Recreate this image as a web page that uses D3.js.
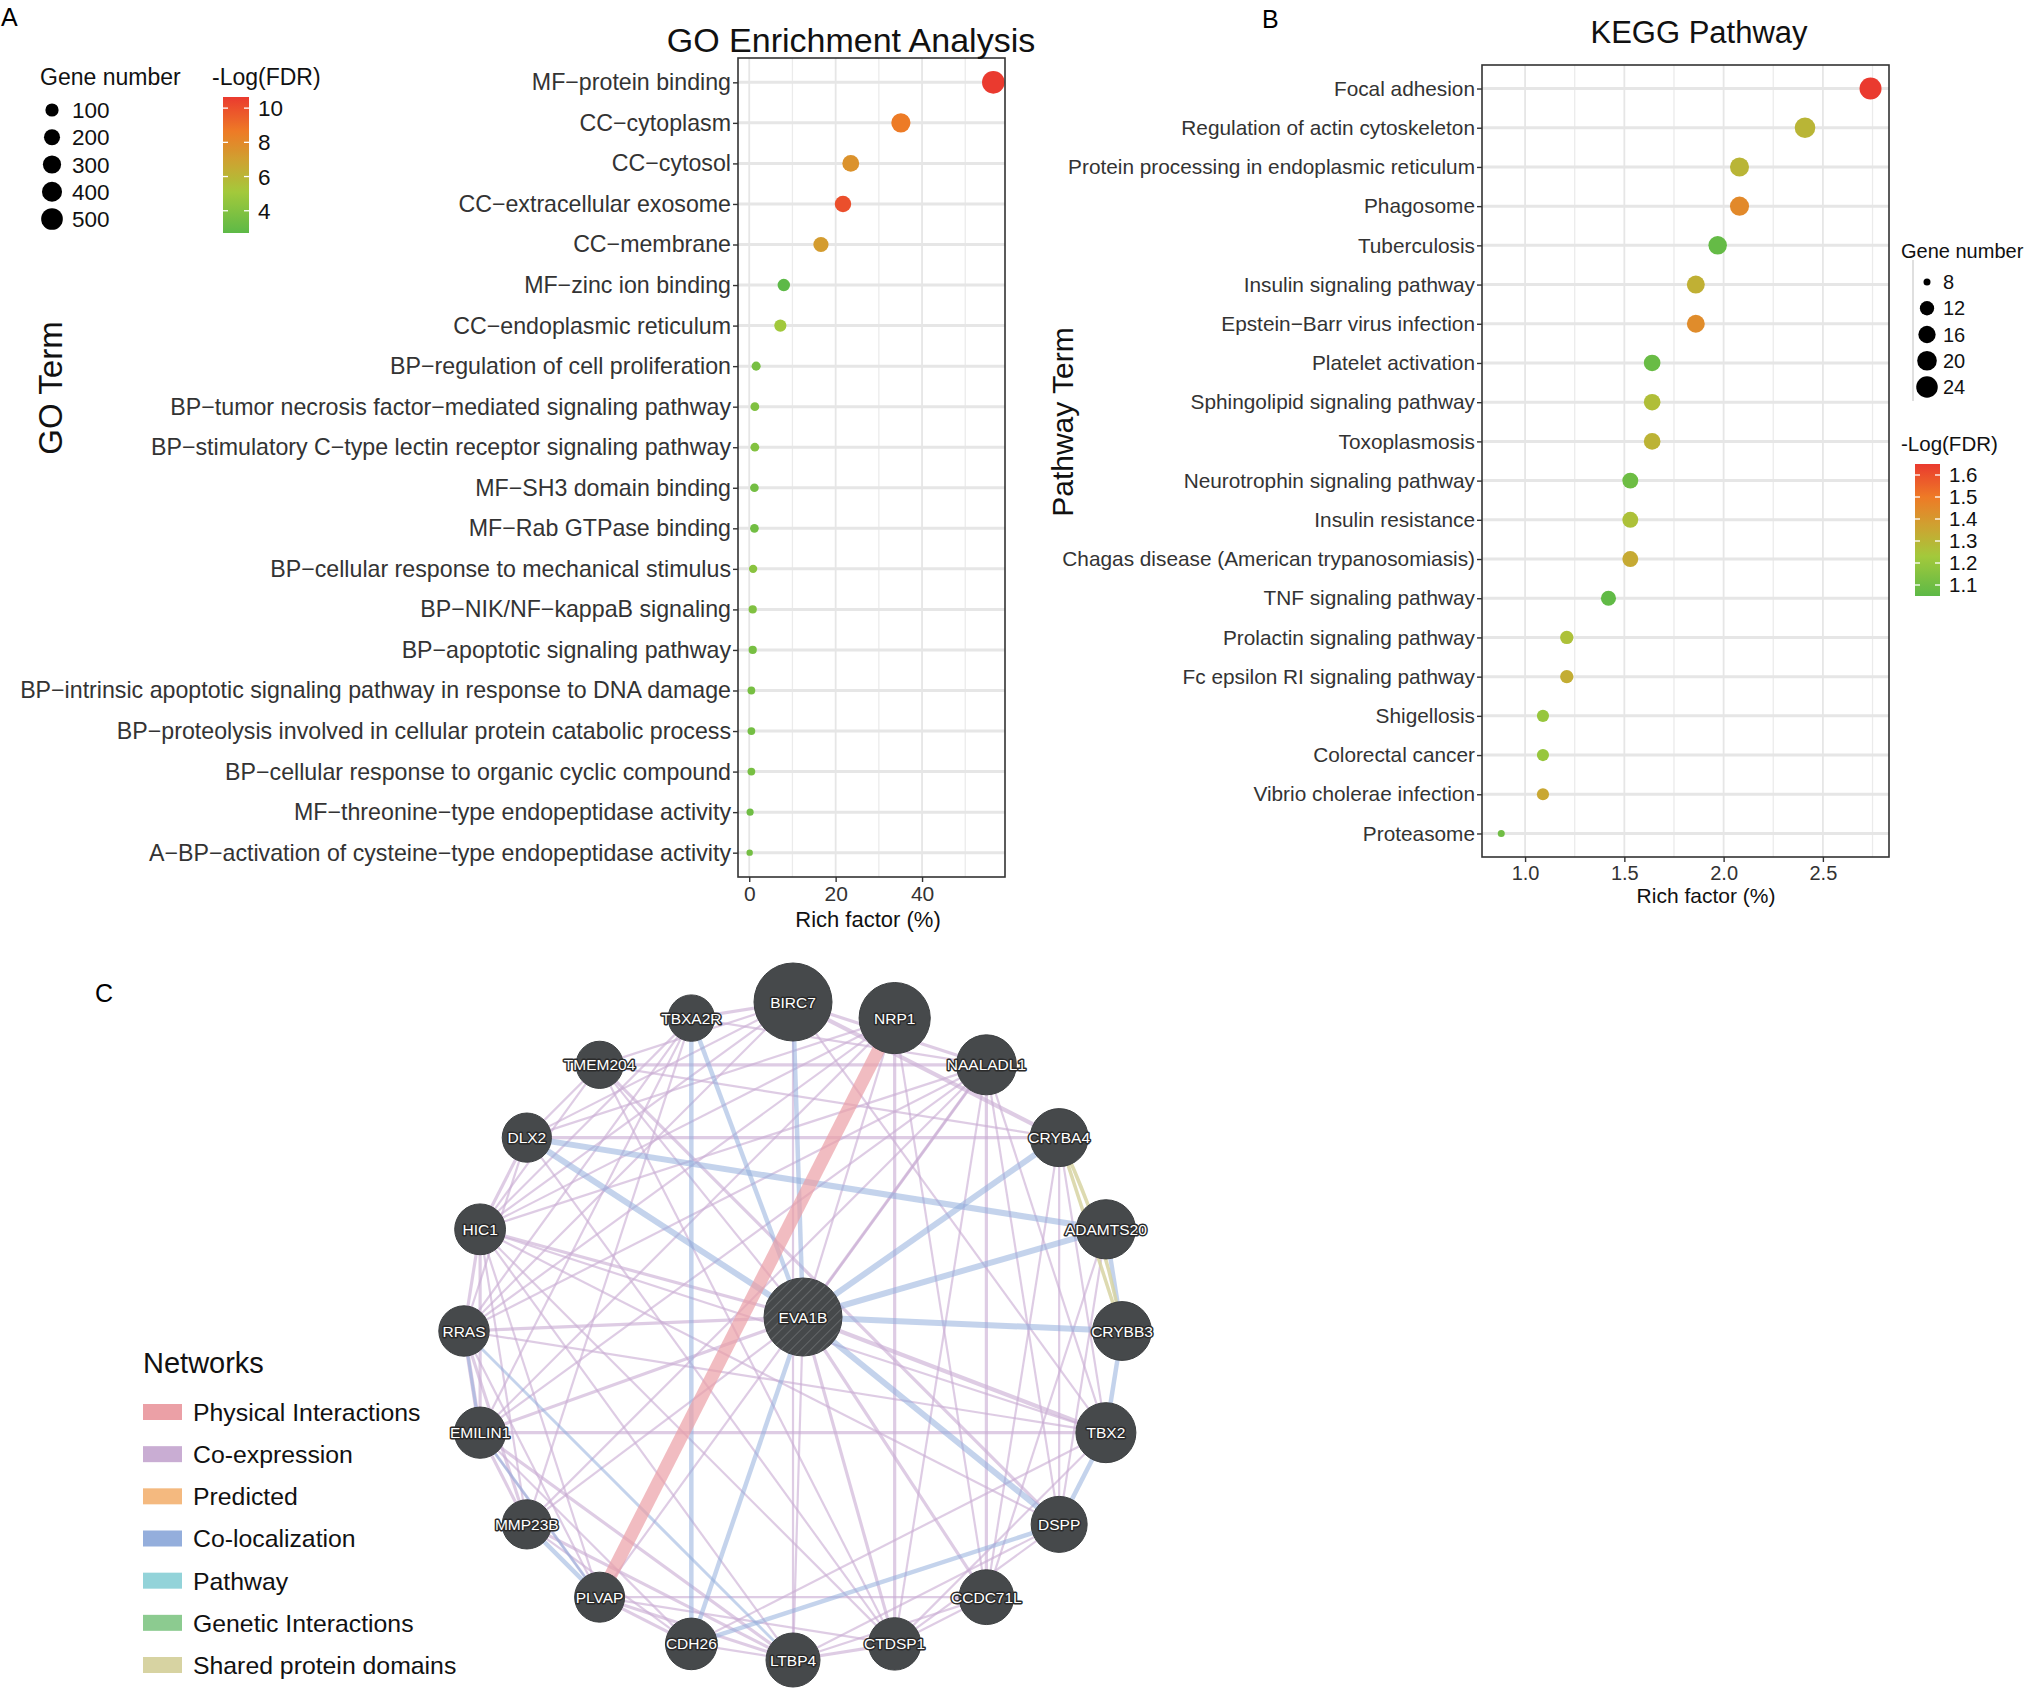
<!DOCTYPE html>
<html><head><meta charset="utf-8">
<script src="https://cdn.jsdelivr.net/npm/d3@7"></script>
<style>
body{margin:0;background:#fff}
text{font-family:"Liberation Sans",Arial,Helvetica,sans-serif}
</style>
</head><body>
<svg id="c" width="2029" height="1692"></svg>
<script>
// ---------------- DATA: GO enrichment (panel A) ----------------
const goTerms = [
 "MF\u2212protein binding","CC\u2212cytoplasm","CC\u2212cytosol","CC\u2212extracellular exosome","CC\u2212membrane",
 "MF\u2212zinc ion binding","CC\u2212endoplasmic reticulum","BP\u2212regulation of cell proliferation",
 "BP\u2212tumor necrosis factor\u2212mediated signaling pathway","BP\u2212stimulatory C\u2212type lectin receptor signaling pathway",
 "MF\u2212SH3 domain binding","MF\u2212Rab GTPase binding","BP\u2212cellular response to mechanical stimulus",
 "BP\u2212NIK/NF\u2212kappaB signaling","BP\u2212apoptotic signaling pathway",
 "BP\u2212intrinsic apoptotic signaling pathway in response to DNA damage",
 "BP\u2212proteolysis involved in cellular protein catabolic process","BP\u2212cellular response to organic cyclic compound",
 "MF\u2212threonine\u2212type endopeptidase activity","A\u2212BP\u2212activation of cysteine\u2212type endopeptidase activity"];
const goRich   = [56.5,35.1,23.5,21.7,16.6,8.0,7.2,1.6,1.3,1.3,1.2,1.2,0.9,0.8,0.8,0.5,0.5,0.5,0.2,0.1];
const goGenes  = [562,350,234,216,166,80,72,16,13,13,12,12,9,8,8,5,5,5,2,1];
const goLogFDR = [10.65,8.6,7.6,10.0,7.2,2.7,5.0,3.6,3.9,4.0,3.5,3.4,4.2,3.9,3.6,3.6,3.5,3.6,3.3,3.5];
const goXTicks = [0,20,40];
const goXMinor = [10,30,50];
const goSizeBreaks = [100,200,300,400,500];
const goColorBreaks = [4,6,8,10];

// ---------------- DATA: KEGG pathway (panel B) ----------------
const keggTerms = ["Focal adhesion","Regulation of actin cytoskeleton","Protein processing in endoplasmic reticulum",
 "Phagosome","Tuberculosis","Insulin signaling pathway","Epstein\u2212Barr virus infection","Platelet activation",
 "Sphingolipid signaling pathway","Toxoplasmosis","Neurotrophin signaling pathway","Insulin resistance ",
 "Chagas disease (American trypanosomiasis)","TNF signaling pathway","Prolactin signaling pathway",
 "Fc epsilon RI signaling pathway","Shigellosis","Colorectal cancer","Vibrio cholerae infection","Proteasome"];
const keggRich   = [2.74,2.41,2.08,2.08,1.97,1.86,1.86,1.64,1.64,1.64,1.53,1.53,1.53,1.42,1.21,1.21,1.09,1.09,1.09,0.88];
const keggGenes  = [25,22,19,19,18,17,17,15,15,15,14,14,14,13,11,11,10,10,10,8];
const keggLogFDR = [1.65,1.30,1.30,1.45,1.07,1.32,1.44,1.08,1.27,1.31,1.09,1.26,1.34,1.06,1.26,1.33,1.20,1.20,1.35,1.10];
const keggXTicks = [1.0,1.5,2.0,2.5];
const keggXMinor = [1.25,1.75,2.25,2.75];
const keggSizeBreaks = [8,12,16,20,24];
const keggColorBreaks = [1.1,1.2,1.3,1.4,1.5,1.6];

// ---------------- DATA: GeneMANIA network (panel C) ----------------
const queryGene = "EVA1B";
const queryScore = 0.95;
const netGenes  = ["BIRC7","NRP1","NAALADL1","CRYBA4","ADAMTS20","CRYBB3","TBX2","DSPP","CCDC71L","CTDSP1",
 "LTBP4","CDH26","PLVAP","MMP23B","EMILIN1","RRAS","HIC1","DLX2","TMEM204","TBXA2R"];
const netScores = [0.95,0.78,0.50,0.45,0.48,0.47,0.50,0.40,0.37,0.31,0.35,0.29,0.25,0.23,0.28,0.26,0.27,0.23,0.18,0.16];
const netTypes  = ["Physical Interactions","Co-expression","Predicted","Co-localization","Pathway","Genetic Interactions","Shared protein domains"];
const netColors = ["#EBA0A6","#C9ADD3","#F4B97F","#94AEDC","#93D3D9","#8CCB90","#D7D3A2"];
const coexpEdges = [
 ["BIRC7","TBXA2R",2],["BIRC7","NAALADL1",2],["BIRC7","CRYBA4",3],["BIRC7","HIC1",1],["BIRC7","DLX2",1],["BIRC7","RRAS",1],
 ["BIRC7","TBX2",1],["BIRC7","LTBP4",1],["BIRC7","TMEM204",1],
 ["NRP1","HIC1",1],["NRP1","RRAS",1],["NRP1","EMILIN1",1],["NRP1","CTDSP1",2],["NRP1","CCDC71L",1],["NRP1","DLX2",1],["NRP1","EVA1B",1],
 ["NAALADL1","TMEM204",2],["NAALADL1","HIC1",1],["NAALADL1","RRAS",1],["NAALADL1","EMILIN1",1],["NAALADL1","CCDC71L",2],
 ["NAALADL1","TBX2",1],["NAALADL1","DSPP",1],["NAALADL1","MMP23B",1],["NAALADL1","PLVAP",1],["NAALADL1","CTDSP1",1],
 ["NAALADL1","EVA1B",2],["NAALADL1","TBXA2R",1],
 ["CRYBA4","DLX2",2],["CRYBA4","TBX2",1],["CRYBA4","DSPP",1],["CRYBA4","CCDC71L",1],["CRYBA4","TMEM204",1],
 ["ADAMTS20","DSPP",1],["ADAMTS20","CCDC71L",1],
 ["TBX2","EVA1B",3],["TBX2","EMILIN1",2],["TBX2","RRAS",1],["TBX2","HIC1",1],["TBX2","CTDSP1",1],["TBX2","CDH26",1],
 ["DSPP","CTDSP1",1],["DSPP","LTBP4",1],["DSPP","HIC1",1],["DSPP","TMEM204",2],
 ["CCDC71L","EVA1B",2],["CCDC71L","CTDSP1",1],["CCDC71L","LTBP4",1],
 ["CTDSP1","EVA1B",2],["CTDSP1","HIC1",1],["CTDSP1","DLX2",1],["CTDSP1","TMEM204",1],["CTDSP1","LTBP4",2],["CTDSP1","PLVAP",1],
 ["LTBP4","EMILIN1",2],["LTBP4","MMP23B",2],["LTBP4","PLVAP",2],["LTBP4","CDH26",1],["LTBP4","HIC1",1],["LTBP4","EVA1B",1],
 ["CDH26","EMILIN1",1],["CDH26","MMP23B",1],["CDH26","PLVAP",2],
 ["PLVAP","EMILIN1",1],["PLVAP","HIC1",1],["PLVAP","RRAS",1],["PLVAP","CCDC71L",1],
 ["MMP23B","EMILIN1",2],["MMP23B","RRAS",2],["MMP23B","HIC1",1],["MMP23B","EVA1B",1],
 ["EMILIN1","RRAS",3],["EMILIN1","HIC1",2],["EMILIN1","EVA1B",2],
 ["RRAS","HIC1",2],["RRAS","EVA1B",2],["RRAS","TBXA2R",1],
 ["HIC1","DLX2",2],["HIC1","TMEM204",1],["HIC1","EVA1B",2],
 ["DLX2","TMEM204",1],["DLX2","RRAS",1],["TMEM204","EVA1B",1],
 ["TBXA2R","HIC1",1],["TBXA2R","EMILIN1",1],["TBXA2R","MMP23B",1]];
const colocEdges = [
 ["EVA1B","BIRC7",2],["EVA1B","TBXA2R",2],["EVA1B","DLX2",3],["EVA1B","CRYBA4",3],["EVA1B","ADAMTS20",3],
 ["EVA1B","CRYBB3",3],["EVA1B","DSPP",3],["EVA1B","CDH26",2],["DLX2","ADAMTS20",3],["TBXA2R","CDH26",2],
 ["ADAMTS20","CRYBB3",2],["CRYBB3","TBX2",2],["TBX2","DSPP",2],["DSPP","CDH26",2],["RRAS","LTBP4",1],
 ["EMILIN1","PLVAP",1],["MMP23B","PLVAP",2],["RRAS","EMILIN1",1]];
const physEdges = [["NRP1","PLVAP",3]];
const domainEdges = [["CRYBA4","CRYBB3",0],["CRYBA4","CRYBB3",1]];

// ---------------- SETUP ----------------
const svg = d3.select("#c");
const defs = svg.append("defs");

const colorStops = ["#5DB947","#A3C93B","#CDA431","#EE7A26","#EA3A2F"];
const colorFrac  = [0,0.3,0.52,0.75,1];
function makeColor(domain){
  const t = d3.scaleLinear().domain([0,1]).range(domain);
  return d3.scaleLinear().domain(colorFrac.map(t)).range(colorStops).interpolate(d3.interpolateRgb).clamp(true);
}

function panelLabel(txt,x,y){
  svg.append("text").attr("x",x).attr("y",y).attr("font-size",25).attr("fill","#000").text(txt);
}

function dotPlot(o){
  const g = svg.append("g");
  const x = d3.scaleLinear().domain(o.xDomain).range([o.left,o.right]);
  const y = d3.scalePoint().domain(o.terms).range([o.top,o.bottom]).padding(0.6);
  const color = makeColor(o.colorDomain);
  const norm = d3.scaleLinear().domain(d3.extent(o.genes)).range([0,1]);
  const rLin = d3.scaleLinear().domain([0,1]).range(o.sizeRange);
  const r = v => rLin(Math.sqrt(Math.max(0,norm(v))));

  // grid
  g.append("g").selectAll("line").data(o.minor).join("line")
    .attr("x1",d=>x(d)).attr("x2",d=>x(d)).attr("y1",o.top).attr("y2",o.bottom)
    .attr("stroke","#EBEBEB").attr("stroke-width",1.3);
  g.append("g").selectAll("line").data(o.xTicks).join("line")
    .attr("x1",d=>x(d)).attr("x2",d=>x(d)).attr("y1",o.top).attr("y2",o.bottom)
    .attr("stroke","#E6E6E6").attr("stroke-width",1.8);
  g.append("g").selectAll("line").data(o.terms).join("line")
    .attr("x1",o.left).attr("x2",o.right).attr("y1",d=>y(d)).attr("y2",d=>y(d))
    .attr("stroke","#E6E6E6").attr("stroke-width",3);

  // points
  const pts = o.terms.map((t,i)=>({t, v:o.rich[i], n:o.genes[i], c:o.fdr[i]}));
  g.append("g").selectAll("circle").data(pts).join("circle")
    .attr("cx",d=>x(d.v)).attr("cy",d=>y(d.t)).attr("r",d=>r(d.n))
    .attr("fill",d=>color(d.c));

  // border
  g.append("rect").attr("x",o.left).attr("y",o.top).attr("width",o.right-o.left).attr("height",o.bottom-o.top)
    .attr("fill","none").attr("stroke","#333").attr("stroke-width",1.6);

  // axes
  const ya = g.append("g").attr("transform",`translate(${o.left},0)`)
    .call(d3.axisLeft(y).tickSize(5).tickPadding(2));
  ya.select(".domain").remove();
  ya.selectAll("line").attr("stroke","#333").attr("stroke-width",1.4);
  ya.selectAll("text").attr("font-size",o.yFont).attr("fill","#333").attr("font-family",'"Liberation Sans",Arial,sans-serif');

  const xa = g.append("g").attr("transform",`translate(0,${o.bottom})`)
    .call(d3.axisBottom(x).tickValues(o.xTicks).tickFormat(o.fmt).tickSize(5).tickPadding(4));
  xa.select(".domain").remove();
  xa.selectAll("line").attr("stroke","#333").attr("stroke-width",1.4);
  xa.selectAll("text").attr("font-size",o.xFont).attr("fill","#333").attr("font-family",'"Liberation Sans",Arial,sans-serif');

  // titles
  svg.append("text").attr("x",o.titleX).attr("y",o.titleY).attr("text-anchor","middle")
    .attr("font-size",o.titleFont).attr("fill","#111").text(o.title);
  svg.append("text").attr("x",o.xLabX).attr("y",o.xLabY).attr("text-anchor","middle")
    .attr("font-size",o.xLabFont).attr("fill","#111").text(o.xLab);
  svg.append("text").attr("transform",`translate(${o.yLabX},${o.yLabY}) rotate(-90)`).attr("text-anchor","middle")
    .attr("font-size",o.yLabFont).attr("fill","#111").text(o.yLab);

  // size legend
  const L = o.sizeLeg;
  svg.append("text").attr("x",L.x).attr("y",L.titleY).attr("font-size",L.tfont).attr("fill","#111").text("Gene number");
  if(L.rule) svg.append("line").attr("x1",L.rule).attr("x2",L.rule).attr("y1",L.y0-22).attr("y2",L.y1+14)
      .attr("stroke","#D5D5D5").attr("stroke-width",1.5);
  const ly = d3.scalePoint().domain(o.sizeBreaks).range([L.y0,L.y1]);
  svg.append("g").selectAll("circle").data(o.sizeBreaks).join("circle")
    .attr("cx",L.cx).attr("cy",d=>ly(d)).attr("r",d=>r(d)).attr("fill","#000");
  svg.append("g").selectAll("text").data(o.sizeBreaks).join("text")
    .attr("x",L.tx).attr("y",d=>ly(d)).attr("dy","0.36em").attr("font-size",L.font).attr("fill","#111").text(d=>d);

  // colour legend
  const C = o.colLeg;
  svg.append("text").attr("x",C.titleX).attr("y",C.titleY).attr("font-size",C.tfont).attr("fill","#111").text("-Log(FDR)");
  const gid = "grad"+o.id;
  const grad = defs.append("linearGradient").attr("id",gid).attr("x1",0).attr("y1",1).attr("x2",0).attr("y2",0);
  const cs = d3.scaleLinear().domain([0,1]).range(o.colorDomain);
  d3.range(0,1.0001,0.05).forEach(f=>grad.append("stop").attr("offset",f).attr("stop-color",color(cs(f))));
  svg.append("rect").attr("x",C.x).attr("y",C.y0).attr("width",C.w).attr("height",C.y1-C.y0).attr("fill",`url(#${gid})`);
  const cy = d3.scaleLinear().domain(o.colorDomain).range([C.y1,C.y0]);
  const tk = svg.append("g");
  tk.selectAll("line.l").data(o.colorBreaks).join("line").attr("class","l")
    .attr("x1",C.x).attr("x2",C.x+5).attr("y1",d=>cy(d)).attr("y2",d=>cy(d)).attr("stroke","#fff").attr("stroke-width",1.3);
  tk.selectAll("line.r").data(o.colorBreaks).join("line").attr("class","r")
    .attr("x1",C.x+C.w-5).attr("x2",C.x+C.w).attr("y1",d=>cy(d)).attr("y2",d=>cy(d)).attr("stroke","#fff").attr("stroke-width",1.3);
  tk.selectAll("text").data(o.colorBreaks).join("text")
    .attr("x",C.x+C.w+9).attr("y",d=>cy(d)).attr("dy","0.36em").attr("font-size",C.font).attr("fill","#111")
    .text(o.cfmt);
}

// ---------------- PANEL A ----------------
panelLabel("A",1,26);
dotPlot({id:"A", terms:goTerms, rich:goRich, genes:goGenes, fdr:goLogFDR,
  xDomain:[-2.6,59.2], left:738, right:1005, top:58, bottom:877,
  xTicks:goXTicks, minor:goXMinor, fmt:d3.format("d"), yFont:23.2, xFont:21,
  colorDomain:[2.7,10.65], sizeRange:[3.2,11.3],
  title:"GO Enrichment Analysis", titleX:851, titleY:52, titleFont:34,
  xLab:"Rich factor (%)", xLabX:868, xLabY:927, xLabFont:22,
  yLab:"GO Term", yLabX:62, yLabY:388, yLabFont:33,
  sizeBreaks:goSizeBreaks, sizeLeg:{x:40,titleY:85,tfont:23,font:22.5,cx:52,tx:72,y0:110,y1:219},
  colorBreaks:goColorBreaks, cfmt:d3.format("d"),
  colLeg:{titleX:212,titleY:85,tfont:23,font:22.5,x:223,w:26,y0:97,y1:233}
});

// ---------------- PANEL B ----------------
panelLabel("B",1262,28);
dotPlot({id:"B", terms:keggTerms, rich:keggRich, genes:keggGenes, fdr:keggLogFDR,
  xDomain:[0.783,2.833], left:1482, right:1889, top:65, bottom:857,
  xTicks:keggXTicks, minor:keggXMinor, fmt:d3.format(".1f"), yFont:20.8, xFont:20,
  colorDomain:[1.05,1.65], sizeRange:[3.5,11],
  title:"KEGG Pathway", titleX:1699, titleY:43, titleFont:31,
  xLab:"Rich factor  (%)", xLabX:1706, xLabY:903, xLabFont:21,
  yLab:"Pathway Term", yLabX:1073, yLabY:422, yLabFont:30,
  sizeBreaks:keggSizeBreaks, sizeLeg:{x:1901,titleY:258,tfont:20,font:20,cx:1927,tx:1943,y0:282,y1:387,rule:1913},
  colorBreaks:keggColorBreaks, cfmt:d3.format(".1f"),
  colLeg:{titleX:1901,titleY:451,tfont:20.5,font:20.5,x:1915,w:25,y0:464,y1:596}
});

// ---------------- PANEL C ----------------
panelLabel("C",95,1002);
const cx = 793, cy = 1331, R = 329;
const ang = d3.scaleLinear().domain([0,netGenes.length]).range([0,2*Math.PI]);
const rad = d3.scaleLinear().domain([0,1]).range([20,40]);
const nodes = netGenes.map((g,i)=>({id:g, x:cx+R*Math.sin(ang(i)), y:cy-R*Math.cos(ang(i)), r:rad(netScores[i]), q:false}));
nodes.push({id:queryGene, x:cx+10, y:cy-14, r:rad(queryScore), q:true});
const byId = new Map(nodes.map(n=>[n.id,n]));

const netG = svg.append("g");
const colOf = t => netColors[netTypes.indexOf(t)];

// co-expression
const wCo = d3.scaleLinear().domain([1,3]).range([2.2,4.2]);
netG.append("g").selectAll("line").data(coexpEdges).join("line")
  .attr("x1",d=>byId.get(d[0]).x).attr("y1",d=>byId.get(d[0]).y)
  .attr("x2",d=>byId.get(d[1]).x).attr("y2",d=>byId.get(d[1]).y)
  .attr("stroke",colOf("Co-expression")).attr("stroke-opacity",0.62).attr("stroke-width",d=>wCo(d[2]));
// co-localization
const wCl = d3.scaleLinear().domain([1,3]).range([3,6]);
netG.append("g").selectAll("line").data(colocEdges).join("line")
  .attr("x1",d=>byId.get(d[0]).x).attr("y1",d=>byId.get(d[0]).y)
  .attr("x2",d=>byId.get(d[1]).x).attr("y2",d=>byId.get(d[1]).y)
  .attr("stroke",colOf("Co-localization")).attr("stroke-opacity",0.55).attr("stroke-width",d=>wCl(d[2]));
// shared protein domains
netG.append("g").selectAll("path").data(domainEdges).join("path")
  .attr("d",d=>{const a=byId.get(d[0]), b=byId.get(d[1]); const mx=(a.x+b.x)/2+d[2]*14, my=(a.y+b.y)/2-d[2]*4;
      return `M${a.x},${a.y} Q${mx},${my} ${b.x},${b.y}`;})
  .attr("fill","none").attr("stroke",colOf("Shared protein domains")).attr("stroke-opacity",0.85).attr("stroke-width",3.5);
// physical
const wPh = d3.scaleLinear().domain([1,3]).range([4,13]);
netG.append("g").selectAll("line").data(physEdges).join("line")
  .attr("x1",d=>byId.get(d[0]).x).attr("y1",d=>byId.get(d[0]).y)
  .attr("x2",d=>byId.get(d[1]).x).attr("y2",d=>byId.get(d[1]).y)
  .attr("stroke",colOf("Physical Interactions")).attr("stroke-opacity",0.7).attr("stroke-width",d=>wPh(d[2]));

// hatch pattern for query gene
const pat = defs.append("pattern").attr("id","hatch").attr("patternUnits","userSpaceOnUse")
  .attr("width",7).attr("height",7).attr("patternTransform","rotate(45)");
pat.append("rect").attr("width",7).attr("height",7).attr("fill","#46494b");
pat.append("line").attr("x1",0).attr("y1",0).attr("x2",0).attr("y2",7).attr("stroke","#6c6f71").attr("stroke-width",1.6);

const ng = netG.append("g").selectAll("g").data(nodes).join("g").attr("transform",d=>`translate(${d.x},${d.y})`);
ng.append("circle").attr("r",d=>d.r).attr("fill",d=>d.q?"url(#hatch)":"#46494b")
  .attr("stroke","#3d4042").attr("stroke-width",1);
ng.append("text").attr("text-anchor","middle").attr("dy","0.36em").attr("font-size",15.5)
  .attr("fill","#fff").attr("stroke","#2b2b2b").attr("stroke-width",3).attr("paint-order","stroke")
  .attr("stroke-linejoin","round").text(d=>d.id);

// network legend
const lg = svg.append("g");
lg.append("text").attr("x",143).attr("y",1373).attr("font-size",29).attr("fill","#111").text("Networks");
const lyS = d3.scalePoint().domain(netTypes).range([1412,1665]);
lg.selectAll("rect").data(netTypes).join("rect")
  .attr("x",143).attr("y",d=>lyS(d)-8).attr("width",39).attr("height",16).attr("fill",d=>colOf(d));
lg.selectAll("text.it").data(netTypes).join("text").attr("class","it")
  .attr("x",193).attr("y",d=>lyS(d)).attr("dy","0.36em").attr("font-size",24.8).attr("fill","#111").text(d=>d);
</script>
</body></html>
